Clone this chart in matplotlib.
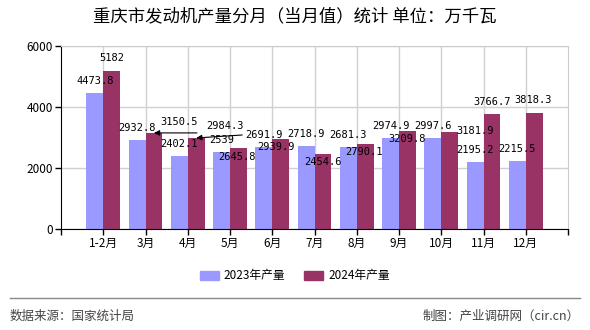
import matplotlib
matplotlib.use("Agg")
import matplotlib.pyplot as plt
import numpy as np
from matplotlib.patches import Patch
from matplotlib.lines import Line2D

plt.rcParams['font.family'] = ['Noto Sans CJK SC', 'DejaVu Sans']

categories = ["1-2月", "3月", "4月", "5月", "6月", "7月", "8月", "9月", "10月", "11月", "12月"]
vals_2023 = [4473.8, 2932.8, 2402.1, 2539, 2691.9, 2718.9, 2681.3, 2974.9, 2997.6, 2195.2, 2215.5]
vals_2024 = [5182, 3150.5, 2984.3, 2645.8, 2939.9, 2454.6, 2790.1, 3209.8, 3181.9, 3766.7, 3818.3]
labels_2023 = ["4473.8", "2932.8", "2402.1", "2539", "2691.9", "2718.9", "2681.3", "2974.9", "2997.6", "2195.2", "2215.5"]
labels_2024 = ["5182", "3150.5", "2984.3", "2645.8", "2939.9", "2454.6", "2790.1", "3209.8", "3181.9", "3766.7", "3818.3"]
yticks = [0, 2000, 4000, 6000]

# label offsets in pixels (dx, dy) from bar top center
off_2023 = [(0, 12)] * 11
off_2024 = [(0, 13), (25, 11), (29, 12), (-1.5, -8.7), (-4.7, -7.7), (0, -8),
            (-1, -8), (0, -8), (25, 1), (0, 12), (-1, 12.5)]
arrows_2024 = {1: ((3, 2), (46, 2)), 2: ((4, 2), (50, 5))}

c23 = "#9999FF"
c24 = "#993366"

fig = plt.figure(figsize=(5.9, 3.3), dpi=100)
ax = fig.add_axes([61/590, 1-229/330, (568-61)/590, (229-46)/330])

x = np.arange(len(categories))
w = 0.4
ax.bar(x - w/2, vals_2023, w, color=c23, zorder=2)
ax.bar(x + w/2, vals_2024, w, color=c24, zorder=2)

ax.set_xlim(-1, len(categories))
ax.set_ylim(0, 6000)
ax.set_yticks(yticks)
ax.set_yticklabels([str(v) for v in yticks], fontsize=8.5)
ax.set_xticks(x)
ax.set_xticklabels(categories, fontsize=8.5)
ax.set_xticks([-1, len(categories)], minor=True)
ax.tick_params(axis='both', which='both', direction='out', length=4, width=1, color='black', pad=2)
ax.grid(True, which='major', color='#d0d0d0', linewidth=1, zorder=0)
ax.set_axisbelow(True)
for s in ['top', 'right']:
    ax.spines[s].set_color('#cccccc')
for s in ['left', 'bottom']:
    ax.spines[s].set_color('black')

lf = dict(fontsize=7.5, family=['DejaVu Sans Mono'], ha='center', va='center', zorder=5)
for i, v in enumerate(vals_2023):
    dx, dy = off_2023[i]
    ax.annotate(labels_2023[i], xy=(x[i] - w/2, v), xytext=(dx, dy),
                textcoords='offset pixels', **lf)
for i, v in enumerate(vals_2024):
    dx, dy = off_2024[i]
    ax.annotate(labels_2024[i], xy=(x[i] + w/2, v), xytext=(dx, dy),
                textcoords='offset pixels', **lf)
    if i in arrows_2024:
        (hx, hy), (tx, ty) = arrows_2024[i]
        ax.annotate('', xy=(x[i] + w/2, v), xytext=(tx - hx, ty - hy),
                    textcoords='offset pixels',
                    arrowprops=dict(arrowstyle='-|>', color='black', lw=0.8,
                                    shrinkA=0, shrinkB=0, mutation_scale=8),
                    zorder=6)

fig.text(0.5, 1-16/330, "重庆市发动机产量分月（当月值）统计 单位：万千瓦",
         ha='center', va='center', fontsize=12.5)

handles = [Patch(color=c23, label="2023年产量"), Patch(color=c24, label="2024年产量")]
fig.legend(handles=handles, loc='center', bbox_to_anchor=(0.5, 1-276/330), ncol=2,
           frameon=False, fontsize=8.5, handlelength=1.6, handleheight=0.8,
           columnspacing=1.6, handletextpad=0.4)

fig.add_artist(Line2D([10/590, 580/590], [1-298/330, 1-298/330], color='#888888', lw=1))
fig.text(10/590, 1-316/330, "数据来源：国家统计局", ha='left', va='center', fontsize=9, color='#444444')
fig.text(580/590, 1-316/330, "制图：产业调研网（cir.cn）", ha='right', va='center', fontsize=9, color='#444444')

fig.savefig("out.png", dpi=100)
